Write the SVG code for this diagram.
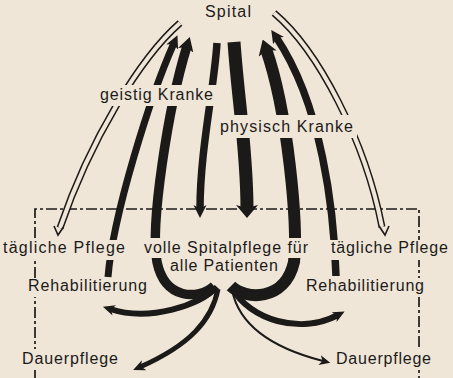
<svg xmlns="http://www.w3.org/2000/svg" width="453" height="378" viewBox="0 0 453 378">
<defs>
<style>
.ink{fill:none;stroke:#1c1a18;stroke-linecap:butt;stroke-linejoin:round}
.dbl{fill:none;stroke:#1c1a18;stroke-width:7}
.dblin{fill:none;stroke:#efe6d8;stroke-width:4}
.v{fill:none;stroke:#1c1a18;stroke-width:1.6;stroke-linejoin:miter}
.box{fill:none;stroke:#1c1a18;stroke-width:1.7;stroke-dasharray:11 3 3 3}
.bg{fill:#efe6d8}
.lbl{font-family:"Liberation Sans",Arial,sans-serif;font-size:16px;fill:#1c1a18}
.head{fill:#1c1a18}
</style>
<marker id="hA" viewBox="0 -7 13 14" refX="4.5" refY="0" markerWidth="13" markerHeight="14" markerUnits="userSpaceOnUse" orient="auto"><path class="head" d="M0,-6.5 L13,0 L0,6.5 L3.5,0 Z"/></marker>
<marker id="hB" viewBox="0 -8 14 16" refX="4.5" refY="0" markerWidth="14" markerHeight="16" markerUnits="userSpaceOnUse" orient="auto"><path class="head" d="M0,-8 L14,0 L0,8 L3.5,0 Z"/></marker>
<marker id="hC" viewBox="0 -9.5 15 19" refX="5" refY="0" markerWidth="15" markerHeight="19" markerUnits="userSpaceOnUse" orient="auto"><path class="head" d="M0,-9.5 L15,0 L0,9.5 L4,0 Z"/></marker>
<marker id="hE" viewBox="0 -11 13 22" refX="4" refY="0" markerWidth="13" markerHeight="22" markerUnits="userSpaceOnUse" orient="auto"><path class="head" d="M0,-11 L13,0 L0,11 L3,0 Z"/></marker>
<marker id="hS" viewBox="0 -5.5 12 11" refX="4.5" refY="0" markerWidth="12" markerHeight="11" markerUnits="userSpaceOnUse" orient="auto"><path class="head" d="M0,-5.5 L12,0 L0,5.5 L3.5,0 Z"/></marker>
<marker id="hT" viewBox="0 -5 11 10" refX="3.5" refY="0" markerWidth="11" markerHeight="10" markerUnits="userSpaceOnUse" orient="auto"><path class="head" d="M0,-5 L11,0 L0,5 L3,0 Z"/></marker>
</defs>
<rect width="453" height="378" fill="#efe6d8"/>
<g id="boundary">
<path class="box" d="M35,378 L35,209 L419,209 L419,378"/>
</g>
<g id="connectors">
<path class="dbl" d="M180,23 C140,58 90,140 60,228"/>
<path class="dblin" d="M180,23 C140,58 90,140 60,228"/>
<polyline class="v" points="54,226 58,235 63.5,227"/>
<path class="dbl" d="M274,13 C318,50 365,140 382,227"/>
<path class="dblin" d="M274,13 C318,50 365,140 382,227"/>
<polyline class="v" points="389,226 385,235 379,226"/>
<path class="ink" stroke-width="7" marker-end="url(#hA)" d="M108,277 C113,215 150,97 174,43"/>
<path class="ink" stroke-width="9.5" marker-end="url(#hB)" d="M214,286 C198,300 165,300 157,262 C150,225 168,108 187,46"/>
<path class="ink" stroke-width="7.5" marker-end="url(#hA)" d="M217,43 C214,90 200,150 200,209.5"/>
<path class="ink" stroke-width="13" marker-end="url(#hE)" d="M234,42 C238,100 247,150 247,209"/>
<path class="ink" stroke-width="12" marker-end="url(#hC)" d="M231,286 C245,300 285,302 294,262 C298,225 288,112 266,49"/>
<path class="ink" stroke-width="7.5" marker-end="url(#hA)" d="M336,276 C334,210 322,105 276,37"/>
<path class="ink" stroke-width="6" marker-end="url(#hS)" d="M217,287 C200,305 150,322 110,309"/>
<path class="ink" stroke-width="5" marker-end="url(#hS)" d="M218,289 C212,320 190,345 140,367"/>
<path class="ink" stroke-width="6" marker-end="url(#hS)" d="M232,288 C250,320 300,335 338,315"/>
<path class="ink" stroke-width="2" marker-end="url(#hT)" d="M232,290 C240,330 280,350 323,361"/>
</g>
<g id="spital"><text class="lbl" x="205" y="17" textLength="46" lengthAdjust="spacing">Spital</text></g>
<g id="geistig-kranke"><rect class="bg" x="96" y="85" width="121" height="21"/><text class="lbl" x="100" y="100" textLength="113" lengthAdjust="spacing">geistig Kranke</text></g>
<g id="physisch-kranke"><rect class="bg" x="215" y="115" width="142" height="23"/><text class="lbl" x="220" y="132" textLength="133" lengthAdjust="spacing">physisch Kranke</text></g>
<g id="taegliche-pflege-links"><rect class="bg" x="0" y="240" width="129" height="20"/><text class="lbl" x="3" y="253" textLength="122" lengthAdjust="spacing">tägliche Pflege</text></g>
<g id="volle-spitalpflege"><rect class="bg" x="140" y="238" width="171" height="20"/><rect class="bg" x="167" y="258" width="114" height="17"/><text class="lbl" x="144" y="253" textLength="164" lengthAdjust="spacing">volle Spitalpflege für</text><text class="lbl" x="170" y="271" textLength="108" lengthAdjust="spacing">alle Patienten</text></g>
<g id="taegliche-pflege-rechts"><rect class="bg" x="327" y="240" width="126" height="20"/><text class="lbl" x="331" y="253" textLength="117" lengthAdjust="spacing">tägliche Pflege</text></g>
<g id="rehabilitierung-links"><rect class="bg" x="25" y="278" width="125" height="19"/><text class="lbl" x="28" y="291" textLength="119" lengthAdjust="spacing">Rehabilitierung</text></g>
<g id="rehabilitierung-rechts"><rect class="bg" x="303" y="278" width="124" height="19"/><text class="lbl" x="306" y="291" textLength="118" lengthAdjust="spacing">Rehabilitierung</text></g>
<g id="dauerpflege-links"><rect class="bg" x="19" y="349" width="102" height="21"/><text class="lbl" x="22" y="364" textLength="96" lengthAdjust="spacing">Dauerpflege</text></g>
<g id="dauerpflege-rechts"><rect class="bg" x="333" y="349" width="101" height="21"/><text class="lbl" x="336" y="364" textLength="95" lengthAdjust="spacing">Dauerpflege</text></g>
</svg>
